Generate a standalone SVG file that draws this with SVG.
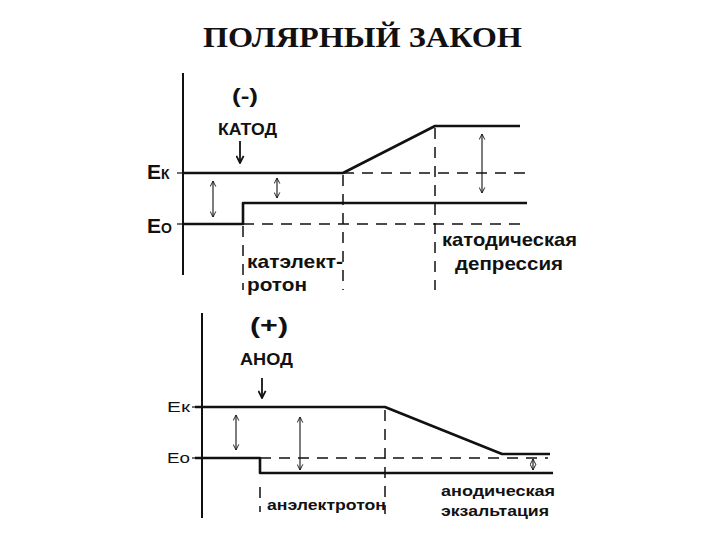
<svg xmlns="http://www.w3.org/2000/svg" width="720" height="540" viewBox="0 0 720 540">
<defs>
<marker id="ah" viewBox="0 0 10 10" refX="9" refY="5" markerWidth="7" markerHeight="7" orient="auto-start-reverse" markerUnits="userSpaceOnUse">
<path d="M1,1 L9,5 L1,9" fill="none" stroke="#111" stroke-width="1.3"/>
</marker>
<marker id="ahb" viewBox="0 0 10 10" refX="9" refY="5" markerWidth="9" markerHeight="9" orient="auto" markerUnits="userSpaceOnUse">
<path d="M1,1 L9,5 L1,9" fill="none" stroke="#111" stroke-width="2"/>
</marker>
</defs>
<style>
.axis{stroke:#111;stroke-width:2;fill:none}
.solid{stroke:#111;stroke-width:2.6;fill:none;stroke-linejoin:round}
.dash{stroke:#111;stroke-width:1.5;fill:none;stroke-dasharray:11 8}
.dbl{stroke:#111;stroke-width:1.1;fill:none;marker-start:url(#ah);marker-end:url(#ah)}
.down{stroke:#111;stroke-width:1.8;fill:none;marker-end:url(#ahb)}
.lbl{font-family:"Liberation Sans",Arial,sans-serif;font-weight:bold;fill:#111}
.lblr{font-family:"Liberation Sans",Arial,sans-serif;fill:#111}
.title{font-family:"Liberation Serif","Times New Roman",serif;font-weight:bold;fill:#111}
</style>
<rect width="720" height="540" fill="#fff"/>
<g id="title"><text class="title" x="203" y="47" font-size="29" textLength="319" lengthAdjust="spacingAndGlyphs">ПОЛЯРНЫЙ ЗАКОН</text></g>

<g id="top-panel">
<g id="top-axis"><line class="axis" x1="183" y1="73" x2="183" y2="275"/></g>
<g id="top-labels">
<text class="lbl" x="232" y="103" font-size="21" textLength="26" lengthAdjust="spacingAndGlyphs">(-)</text>
<text class="lbl" x="218" y="135" font-size="17" textLength="59" lengthAdjust="spacingAndGlyphs">КАТОД</text>
<text class="lbl" x="147" y="179"><tspan font-size="21">E</tspan><tspan font-size="14">К</tspan></text>
<text class="lbl" x="147" y="233"><tspan font-size="21">E</tspan><tspan font-size="14">О</tspan></text>
<text class="lbl" x="247" y="268" font-size="19" textLength="96" lengthAdjust="spacingAndGlyphs">катэлект-</text>
<text class="lbl" x="247" y="291" font-size="19" textLength="60" lengthAdjust="spacingAndGlyphs">ротон</text>
<text class="lbl" x="442" y="246" font-size="19" textLength="135" lengthAdjust="spacingAndGlyphs">катодическая</text>
<text class="lbl" x="455" y="270" font-size="19" textLength="108" lengthAdjust="spacingAndGlyphs">депрессия</text>
</g>
</g>

<g id="bottom-panel">
<g id="bottom-axis"><line class="axis" x1="202" y1="313" x2="202" y2="518"/></g>
<g id="bottom-labels">
<text class="lbl" x="250" y="333" font-size="22" textLength="38" lengthAdjust="spacingAndGlyphs">(+)</text>
<text class="lblr" x="240" y="365" font-size="17" textLength="53" lengthAdjust="spacingAndGlyphs" font-weight="bold">АНОД</text>
<text class="lblr" x="167" y="412" font-size="15" textLength="23" lengthAdjust="spacingAndGlyphs">Eк</text>
<text class="lblr" x="167" y="463" font-size="15" textLength="23" lengthAdjust="spacingAndGlyphs">Eo</text>
<text class="lbl" x="267" y="510" font-size="15" textLength="119" lengthAdjust="spacingAndGlyphs">анэлектротон</text>
<text class="lbl" x="441" y="496" font-size="15" textLength="114" lengthAdjust="spacingAndGlyphs">анодическая</text>
<text class="lbl" x="441" y="516" font-size="15" textLength="108" lengthAdjust="spacingAndGlyphs">экзальтация</text>
</g>
</g>

<g id="connectors">
<line x1="177" y1="173" x2="183" y2="173" stroke="#111" stroke-width="1.2"/>
<line x1="177" y1="224" x2="183" y2="224" stroke="#111" stroke-width="1.2"/>
<polyline class="solid" points="183,173 343,173 435,126 520,126" stroke-width="2.2"/>
<polyline class="solid" points="183,224 243,224 243,203 527,203"/>
<line class="dash" x1="343" y1="173" x2="527" y2="173"/>
<line class="dash" x1="243" y1="224" x2="527" y2="224"/>
<line class="dash" x1="243" y1="226" x2="243" y2="290"/>
<line class="dash" x1="343" y1="175" x2="343" y2="290"/>
<line class="dash" x1="435" y1="128" x2="435" y2="290"/>
<line class="dbl" x1="213" y1="181" x2="213" y2="217"/>
<line class="dbl" x1="277" y1="178" x2="277" y2="198"/>
<line class="dbl" x1="482" y1="134" x2="482" y2="193"/>
<line class="down" x1="240" y1="141" x2="240" y2="163"/>
<line x1="192" y1="407" x2="202" y2="407" stroke="#111" stroke-width="1.2"/>
<line x1="192" y1="458" x2="202" y2="458" stroke="#111" stroke-width="1.2"/>
<polyline class="solid" points="195,407 385,407 502,454 550,454" stroke-width="2.4"/>
<polyline class="solid" points="195,458 260,458 260,473 553,473"/>
<line class="dash" x1="260" y1="458" x2="548" y2="458"/>
<line class="dash" x1="260" y1="487" x2="260" y2="512"/>
<line class="dash" x1="385" y1="410" x2="385" y2="514"/>
<line class="dbl" x1="236" y1="415" x2="236" y2="450"/>
<line class="dbl" x1="300" y1="417" x2="300" y2="470"/>
<line class="dbl" x1="533" y1="459" x2="533" y2="470"/>
<line class="down" x1="262" y1="378" x2="262" y2="398"/>
</g>
</svg>
